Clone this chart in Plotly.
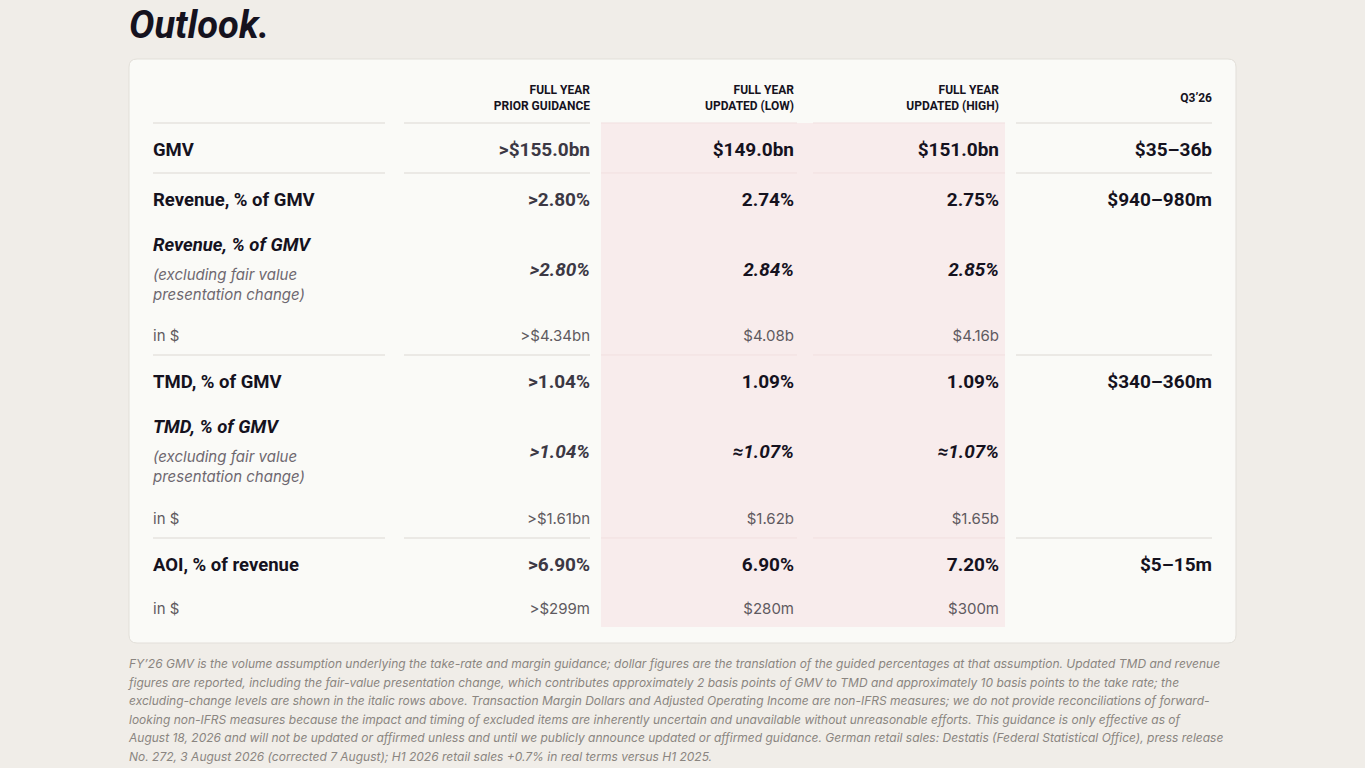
import plotly.graph_objects as go

# ---- data ----
columns = ["FULL YEAR<br>PRIOR GUIDANCE", "FULL YEAR<br>UPDATED (LOW)", "FULL YEAR<br>UPDATED (HIGH)", "Q3’26"]
row_labels = ["GMV", "Revenue, % of GMV", "Revenue, % of GMV", "in $",
              "TMD, % of GMV", "TMD, % of GMV", "in $", "AOI, % of revenue", "in $"]
row_kind = ["main", "main", "ital", "small", "main", "ital", "small", "main", "small"]
prior = [">$155.0bn", ">2.80%", ">2.80%", ">$4.34bn", ">1.04%", ">1.04%", ">$1.61bn", ">6.90%", ">$299m"]
upd_low = ["$149.0bn", "2.74%", "2.84%", "$4.08b", "1.09%", "≈1.07%", "$1.62b", "6.90%", "$280m"]
upd_high = ["$151.0bn", "2.75%", "2.85%", "$4.16b", "1.09%", "≈1.07%", "$1.65b", "7.20%", "$300m"]
q3 = ["$35–36b", "$940–980m", "", "", "$340–360m", "", "", "$5–15m", ""]
note_sub = "(excluding fair value<br>presentation change)"
footnote_lines = [
    "FY’26 GMV is the volume assumption underlying the take-rate and margin guidance; dollar figures are the translation of the guided percentages at that assumption. Updated TMD and revenue",
    "figures are reported, including the fair-value presentation change, which contributes approximately 2 basis points of GMV to TMD and approximately 10 basis points to the take rate; the",
    "excluding-change levels are shown in the italic rows above. Transaction Margin Dollars and Adjusted Operating Income are non-IFRS measures; we do not provide reconciliations of forward-",
    "looking non-IFRS measures because the impact and timing of excluded items are inherently uncertain and unavailable without unreasonable efforts. This guidance is only effective as of",
    "August 18, 2026 and will not be updated or affirmed unless and until we publicly announce updated or affirmed guidance. German retail sales: Destatis (Federal Statistical Office), press release",
    "No. 272, 3 August 2026 (corrected 7 August); H1 2026 retail sales +0.7% in real terms versus H1 2025.",
]

# ---- layout (pixel space) ----
COND = "Roboto, sans-serif"
BODY = "Inter, Lato, sans-serif"
DARK = "#15121e"
GREY = "#5f5a60"
col_x = [590, 794, 999, 1212]
label_x = 153
row_y = [151, 201, 271, 337, 383, 453, 520, 566, 610]
label_y = {"ital": -25}
rules = [123, 173, 355, 538]
segments = [(153, 385), (404, 590), (601, 797), (813, 1005), (1016, 1212)]

fig = go.Figure()

# card with rounded corners
x0, x1, y0, y1, r = 129, 1236, 59, 643, 8
card = (f"M {x0+r},{y0} L {x1-r},{y0} Q {x1},{y0} {x1},{y0+r} L {x1},{y1-r} Q {x1},{y1} {x1-r},{y1} "
        f"L {x0+r},{y1} Q {x0},{y1} {x0},{y1-r} L {x0},{y0+r} Q {x0},{y0} {x0+r},{y0} Z")
shapes = [
    dict(type="path", path=card, xref="x", yref="y",
         fillcolor="#fafaf7", line=dict(color="#e2dfd9", width=1), layer="below"),
    dict(type="rect", x0=601, x1=1005, y0=123, y1=627, xref="x", yref="y",
         fillcolor="#f8ecec", line_width=0, layer="below"),
]
for ry in rules:
    for a, b in segments:
        col = "#f1dfdf" if 600 < a < 1006 else "#dcd8d3"
        shapes.append(dict(type="line", x0=a, x1=b, y0=ry, y1=ry, xref="x", yref="y",
                           line=dict(color=col, width=1)))

# header
fig.add_trace(go.Scatter(x=col_x, y=[99] * 4, mode="text", text=columns,
                         textposition="middle left",
                         textfont=dict(family=COND, size=12, color=DARK, weight="bold")))


def add_text(xs, ys, texts, size, color, italic=False, family=COND, bold=True, pos="middle left"):
    fig.add_trace(go.Scatter(x=xs, y=ys, mode="text", text=texts, textposition=pos,
                             textfont=dict(family=family, size=size, color=color,
                                           weight="bold" if bold else "normal",
                                           style="italic" if italic else "normal")))


# row labels
for kind in ["main", "ital", "small"]:
    idx = [i for i, k in enumerate(row_kind) if k == kind]
    ys = [row_y[i] + label_y.get(kind, 0) for i in idx]
    txt = [row_labels[i] for i in idx]
    if kind == "main":
        add_text([label_x] * len(idx), ys, txt, 18.5, DARK, pos="middle right")
    elif kind == "ital":
        add_text([label_x] * len(idx), ys, txt, 18.5, DARK, italic=True, pos="middle right")
        add_text([label_x] * len(idx), [y + 40 for y in ys], [note_sub] * len(idx), 15, "#6e6870",
                 italic=True, family=BODY, bold=False, pos="middle right")
    else:
        add_text([label_x] * len(idx), ys, txt, 15, GREY, family=BODY, bold=False, pos="middle right")

# values
for ci, vals in enumerate([prior, upd_low, upd_high, q3]):
    base = "#3c3844" if ci == 0 else DARK
    for kind in ["main", "ital", "small"]:
        idx = [i for i, k in enumerate(row_kind) if k == kind and vals[i]]
        if not idx:
            continue
        ys = [row_y[i] for i in idx]
        txt = [vals[i] for i in idx]
        xs = [col_x[ci]] * len(idx)
        if kind == "small":
            add_text(xs, ys, txt, 15, GREY, family=BODY, bold=False)
        else:
            add_text(xs, ys, txt, 19, base, italic=(kind == "ital"))

# footnote
add_text([129] * len(footnote_lines), [665 + 18.6 * i for i in range(len(footnote_lines))],
         footnote_lines, 12, "#8a8580", italic=True, family=BODY, bold=False, pos="middle right")

fig.update_layout(
    width=1365, height=768, paper_bgcolor="#f0ede8", plot_bgcolor="#f0ede8",
    margin=dict(l=0, r=0, t=0, b=0), showlegend=False, shapes=shapes,
    xaxis=dict(range=[0, 1365], visible=False, fixedrange=True),
    yaxis=dict(range=[768, 0], visible=False, fixedrange=True),
    annotations=[
        dict(text="Outlook.", x=127, y=25, xref="x", yref="y", xanchor="left", yanchor="middle",
             showarrow=False, font=dict(family=COND, size=38, color=DARK, weight="bold", style="italic")),
    ],
)

fig.write_html("out.html", config={"displayModeBar": False},
               post_script="document.body.style.margin='0';document.body.style.overflow='hidden';")
